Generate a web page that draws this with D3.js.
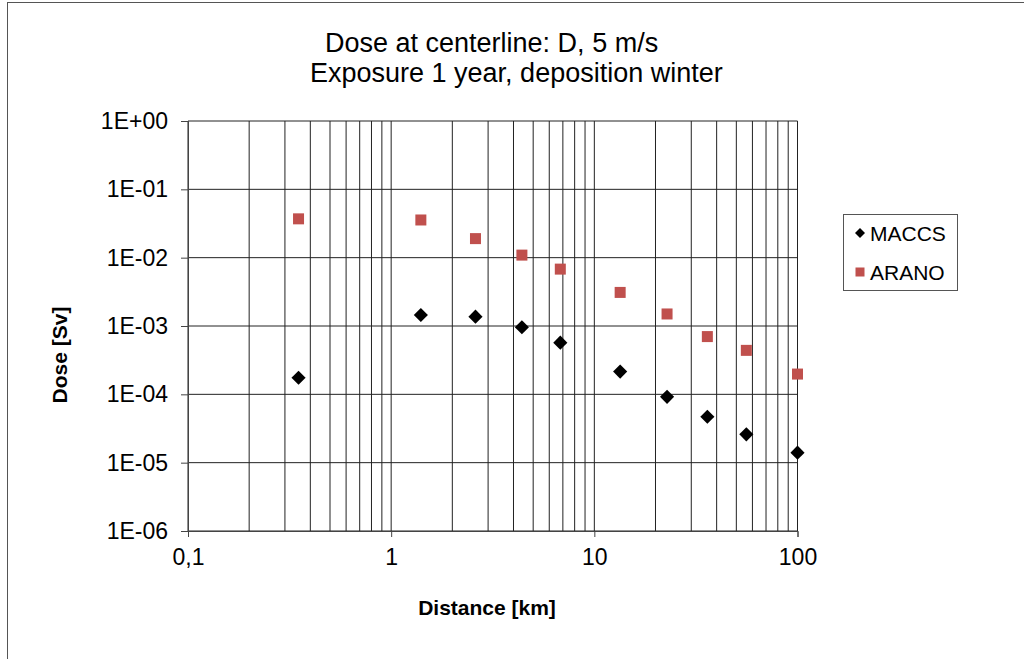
<!DOCTYPE html>
<html><head><meta charset="utf-8">
<script src="https://cdn.jsdelivr.net/npm/d3@7"></script>
<style>
html,body{margin:0;padding:0;background:#fff;overflow:hidden}
text{font-family:"Liberation Sans",Arial,sans-serif;fill:#000}
</style></head>
<body>
<svg id="c" width="1024" height="659"></svg>
<script>
const titleLines = ["Dose at centerline: D, 5 m/s", "Exposure 1 year, deposition winter"];
const xLabel = "Distance [km]";
const yLabel = "Dose [Sv]";
const distances = [0.35, 1.4, 2.6, 4.4, 6.8, 13.4, 22.8, 36, 56, 100];
const macccs = [1.75e-4, 1.45e-3, 1.37e-3, 9.6e-4, 5.7e-4, 2.15e-4, 9.2e-5, 4.7e-5, 2.6e-5, 1.4e-5];
const arano = [3.7e-2, 3.56e-2, 1.9e-2, 1.09e-2, 6.8e-3, 3.1e-3, 1.5e-3, 7.0e-4, 4.4e-4, 1.98e-4];
const seriesNames = ["MACCS", "ARANO"];
const xTicks = [0.1, 1, 10, 100];
const xTickLabels = ["0,1", "1", "10", "100"];
const yTicks = [1, 1e-1, 1e-2, 1e-3, 1e-4, 1e-5, 1e-6];
const yTickLabels = ["1E+00", "1E-01", "1E-02", "1E-03", "1E-04", "1E-05", "1E-06"];

const svg = d3.select("#c");
const W = 1024, H = 659;
const m = {left: 188, right: 1024 - 797.5, top: 121, bottom: 659 - 531};
const x = d3.scaleLog().domain([0.1, 100]).range([m.left, W - m.right]);
const y = d3.scaleLog().domain([1e-6, 1]).range([H - m.bottom, m.top]);

// outer chart border
svg.append("rect").attr("x", 7.5).attr("y", 2.5).attr("width", 1030).attr("height", 680)
  .attr("fill", "#fff").attr("stroke", "#555").attr("stroke-width", 1);

const g = svg.append("g");
const vGrid = [];
for (let e = -1; e < 2; e++) for (let k = 1; k <= 9; k++) vGrid.push(k * Math.pow(10, e));
vGrid.push(100);
g.selectAll("line.vg").data(vGrid).join("line").attr("class", "vg")
  .attr("x1", d => x(d)).attr("x2", d => x(d))
  .attr("y1", y(1)).attr("y2", y(1e-6))
  .attr("stroke", "#222").attr("stroke-width", 1);
g.selectAll("line.hg").data(yTicks).join("line").attr("class", "hg")
  .attr("x1", x(0.1)).attr("x2", x(100))
  .attr("y1", d => y(d)).attr("y2", d => y(d))
  .attr("stroke", "#222").attr("stroke-width", 1);

const FONT = "Liberation Sans, Arial, sans-serif";
const yAxis = d3.axisLeft(y).tickValues(yTicks).tickSize(7).tickPadding(13)
  .tickFormat((d, i) => yTickLabels[i]);
const ya = svg.append("g").attr("transform", `translate(${x(0.1)},0)`).call(yAxis);
ya.select(".domain").attr("stroke", "#444");
ya.selectAll(".tick line").attr("stroke", "#444");
ya.selectAll("text").attr("font-size", 23).attr("font-family", FONT).attr("fill", "#000");

const xAxis = d3.axisBottom(x).tickValues(xTicks).tickSize(6).tickPadding(12)
  .tickFormat((d, i) => xTickLabels[i]);
const xa = svg.append("g").attr("transform", `translate(0,${y(1e-6)})`).call(xAxis);
xa.select(".domain").attr("stroke", "#444");
xa.selectAll(".tick line").attr("stroke", "#444");
xa.selectAll("text").attr("font-size", 23).attr("font-family", FONT).attr("fill", "#000");

const diamond = d3.symbol().type(d3.symbolSquare).size(100);
svg.selectAll("path.mac").data(distances.map((d, i) => [d, macccs[i]])).join("path")
  .attr("class", "mac").attr("d", diamond)
  .attr("transform", d => `translate(${x(d[0])},${y(d[1])}) rotate(45)`)
  .attr("fill", "#000");
svg.selectAll("rect.ara").data(distances.map((d, i) => [d, arano[i]])).join("rect")
  .attr("class", "ara")
  .attr("x", d => x(d[0]) - 5.5).attr("y", d => y(d[1]) - 5.5)
  .attr("width", 11).attr("height", 11).attr("fill", "#C0504D");

// title
svg.append("text").attr("x", 325).attr("y", 52).attr("font-size", 27).text(titleLines[0]);
svg.append("text").attr("x", 310).attr("y", 82).attr("font-size", 27).text(titleLines[1]);

// axis titles
svg.append("text").attr("x", 487).attr("y", 615).attr("text-anchor", "middle")
  .attr("font-size", 21).attr("font-weight", "bold").text(xLabel);
svg.append("text").attr("transform", `translate(67,${355}) rotate(-90)`).attr("text-anchor", "middle")
  .attr("font-size", 21).attr("font-weight", "bold").text(yLabel);

// legend
const lg = svg.append("g");
lg.append("rect").attr("x", 843.5).attr("y", 214.5).attr("width", 114).attr("height", 76)
  .attr("fill", "#fff").attr("stroke", "#555");
lg.append("path").attr("d", d3.symbol().type(d3.symbolSquare).size(50))
  .attr("transform", "translate(860,233) rotate(45)").attr("fill", "#000");
lg.append("rect").attr("x", 855.5).attr("y", 267.5).attr("width", 9).attr("height", 9).attr("fill", "#C0504D");
lg.append("text").attr("x", 870).attr("y", 241).attr("font-size", 21).text(seriesNames[0]);
lg.append("text").attr("x", 870).attr("y", 280).attr("font-size", 21).text(seriesNames[1]);
</script>
</body></html>
